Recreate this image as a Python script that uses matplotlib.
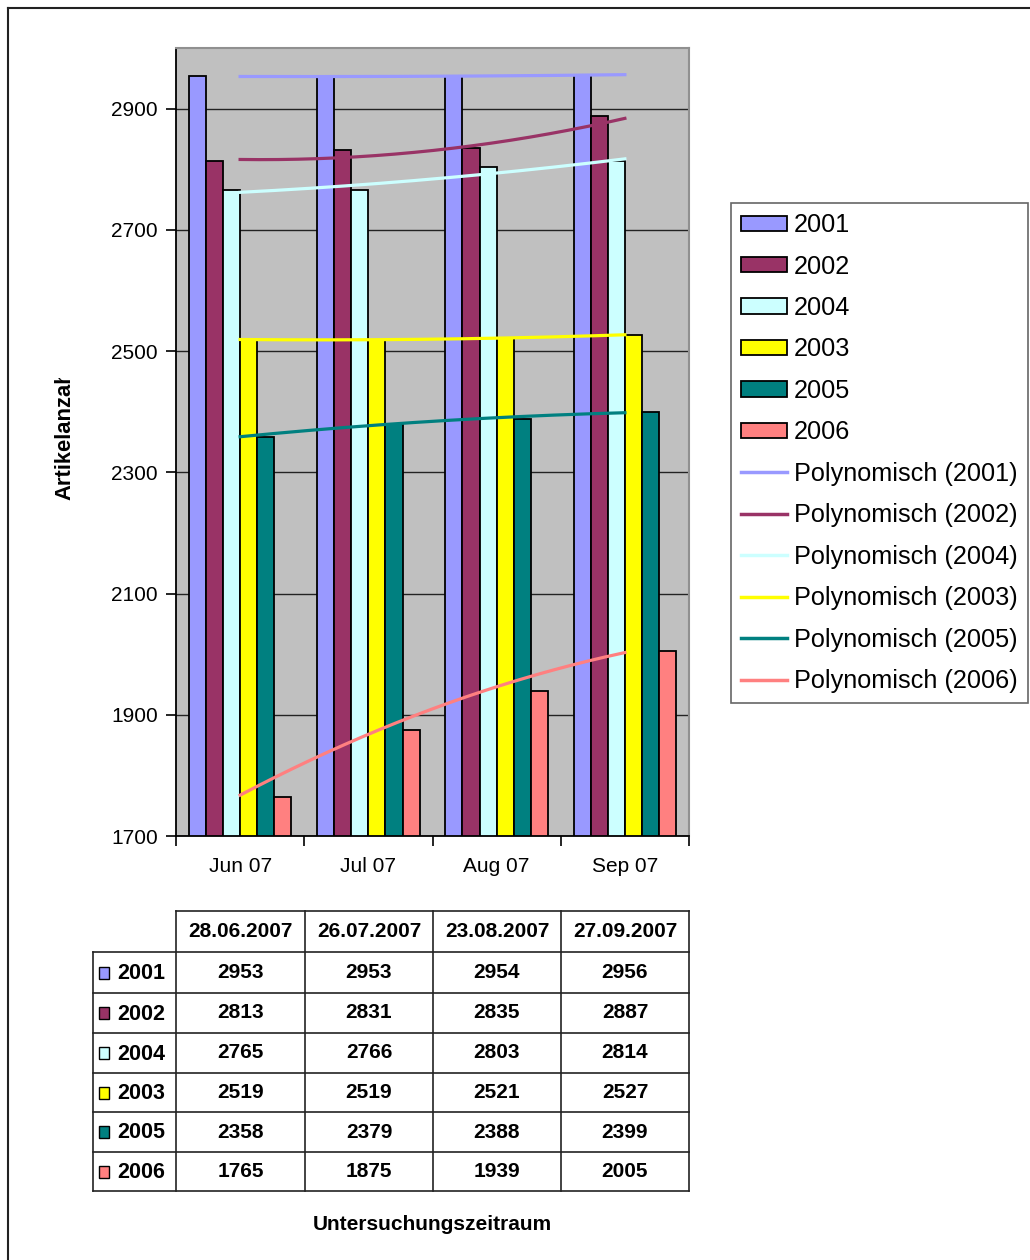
import numpy as np
import matplotlib.pyplot as plt
from matplotlib.patches import Patch, Rectangle
from matplotlib.lines import Line2D
from matplotlib.transforms import Bbox

plt.rcParams['font.family'] = ['Liberation Sans', 'DejaVu Sans']

monate = ['Jun 07', 'Jul 07', 'Aug 07', 'Sep 07']
daten = ['28.06.2007', '26.07.2007', '23.08.2007', '27.09.2007']
jahre = ['2001', '2002', '2004', '2003', '2005', '2006']
w2001 = [2953, 2953, 2954, 2956]
w2002 = [2813, 2831, 2835, 2887]
w2004 = [2765, 2766, 2803, 2814]
w2003 = [2519, 2519, 2521, 2527]
w2005 = [2358, 2379, 2388, 2399]
w2006 = [1765, 1875, 1939, 2005]
serien = [w2001, w2002, w2004, w2003, w2005, w2006]
farben = ['#9999FF', '#993366', '#CCFFFF', '#FFFF00', '#008080', '#FF8080']

W, H = 1030, 1260
fig = plt.figure(figsize=(W / 100, H / 100), dpi=100)


def fx(p):
    return p / W


def fy(p):
    return 1 - p / H


ax = fig.add_axes([fx(176), fy(836), fx(689) - fx(176), fy(48) - fy(836)])
ax.set_facecolor('#C0C0C0')
ax.set_axisbelow(True)

x = np.arange(len(monate))
bw = 0.8 / len(jahre)
for i, (werte, c) in enumerate(zip(serien, farben)):
    ax.bar(x - 0.4 + bw * (i + 0.5), werte, bw, color=c, edgecolor='black',
           linewidth=1.3, zorder=2)

# polynomische Trendlinien (2. Ordnung) wie in Excel
xs = np.linspace(0, 3, 200)
for werte, c in zip(serien, farben):
    p = np.polyfit(x, werte, 2)
    ax.plot(xs, np.polyval(p, xs), color=c, lw=2.3, zorder=3)

ax.set_xlim(-0.5, 3.5)
ax.set_ylim(1700, 3000)
ax.set_yticks(range(1700, 3000, 200))
ax.yaxis.grid(True, color='#222222', lw=1)
ax.set_xticks(np.arange(-0.5, 4, 1))
ax.set_xticklabels([])
ax.set_xticks(x, minor=True)
ax.set_xticklabels(monate, minor=True)
ax.tick_params(axis='x', which='minor', length=0, pad=15, labelsize=15)
ax.tick_params(axis='x', which='major', length=7, width=1.2)
ax.tick_params(axis='y', length=7, width=1.2, pad=6, labelsize=15)
for s in ['top', 'right']:
    ax.spines[s].set_color('#909090')
    ax.spines[s].set_linewidth(1.5)
for s in ['left', 'bottom']:
    ax.spines[s].set_color('black')
    ax.spines[s].set_linewidth(1.3)

# Legende
handles = [Patch(facecolor=c, edgecolor='black', lw=1.3, label=j)
           for j, c in zip(jahre, farben)]
handles += [Line2D([], [], color=c, lw=2.5, label='Polynomisch (%s)' % j)
            for j, c in zip(jahre, farben)]
leg = fig.legend(handles=handles, loc='upper left',
                 bbox_to_anchor=(fx(731), fy(203)), fontsize=18.2,
                 frameon=True, fancybox=False, edgecolor='#404040',
                 handlelength=1.8, handleheight=0.55, handletextpad=0.3,
                 labelspacing=0.69, borderpad=0.4, borderaxespad=0)
leg.get_frame().set_linewidth(1.2)

# y-Achsentitel (in Excel oben abgeschnitten)
t = fig.text(fx(65), fy(500), 'Artikelanzahl', rotation=90, fontsize=15.8,
             fontweight='bold', ha='center', va='bottom')
t.set_clip_box(Bbox([[0, 0], [W, fy(378) * H]]))
t.set_clip_on(True)

# Datentabelle
cb = [93, 176, 305, 433, 561, 689]
rb = [911, 952, 993, 1033, 1073, 1112, 1152, 1191]
lk = dict(color='#222222', lw=1.2, transform=fig.transFigure)
fig.add_artist(Line2D([fx(cb[1]), fx(cb[-1])], [fy(rb[0])] * 2, **lk))
for r in rb[1:]:
    fig.add_artist(Line2D([fx(cb[0]), fx(cb[-1])], [fy(r)] * 2, **lk))
fig.add_artist(Line2D([fx(cb[0])] * 2, [fy(rb[1]), fy(rb[-1])], **lk))
for c in cb[1:]:
    fig.add_artist(Line2D([fx(c)] * 2, [fy(rb[0]), fy(rb[-1])], **lk))

for k, d in enumerate(daten):
    fig.text(fx((cb[k + 1] + cb[k + 2]) / 2), fy((rb[0] + rb[1]) / 2), d,
             fontsize=15, fontweight='bold', ha='center', va='center')
for r, (j, werte, c) in enumerate(zip(jahre, serien, farben)):
    yc = (rb[r + 1] + rb[r + 2]) / 2
    fig.add_artist(Rectangle((fx(99), fy(yc + 6)), fx(10), 12 / H,
                             facecolor=c, edgecolor='black', lw=1,
                             transform=fig.transFigure))
    fig.text(fx(117), fy(yc + 1), j, fontsize=15.5, fontweight='bold',
             ha='left', va='center')
    for k, v in enumerate(werte):
        fig.text(fx((cb[k + 1] + cb[k + 2]) / 2), fy(yc), str(v),
                 fontsize=15, fontweight='bold', ha='center', va='center')

fig.text(fx(432), fy(1224), 'Untersuchungszeitraum', fontsize=15,
         fontweight='bold', ha='center', va='center')

# äußerer Rahmen
rk = dict(color='#222222', lw=1.5, transform=fig.transFigure)
fig.add_artist(Line2D([fx(8), fx(8)], [fy(8), 0], **rk))
fig.add_artist(Line2D([fx(8), 1], [fy(8), fy(8)], **rk))

fig.savefig('out.png', dpi=100)
